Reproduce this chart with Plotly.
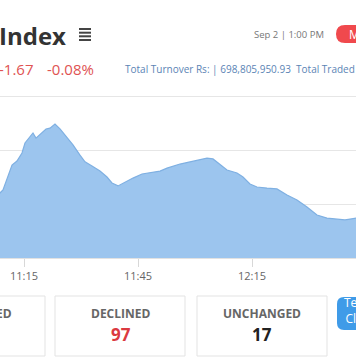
import pandas as pd
import plotly.graph_objects as go

# ---- data ----
minutes = [7.5, 8.68, 9.47, 10.79, 11.84, 13.15, 14.47, 15.26, 16.57, 17.36, 18.15, 19.21,
           20.79, 21.84, 23.15, 24.47, 26.31, 27.89, 29.73, 31.05, 32.89, 35.0, 36.84,
           38.15, 39.73, 41.57, 43.68, 46.05, 48.15, 50.79, 52.63, 54.73, 56.05, 58.68,
           61.31, 63.15, 64.73, 66.57, 68.42, 71.05, 72.63, 74.47, 76.31, 78.94, 81.57,
           84.21, 86.84, 89.47, 92.1, 94.73, 97.36, 99.47, 100.8, 102.4, 103.5]
index_values = [2084.30, 2084.41, 2084.52, 2085.07, 2085.44, 2085.59, 2085.89, 2086.26, 2086.52,
                2086.63, 2086.44, 2086.59, 2086.78, 2086.81, 2086.96, 2086.78, 2086.48, 2086.19,
                2085.81, 2085.56, 2085.41, 2085.22, 2085.00, 2084.78, 2084.67, 2084.81, 2084.96,
                2085.11, 2085.15, 2085.22, 2085.33, 2085.44, 2085.48, 2085.56, 2085.63, 2085.70,
                2085.67, 2085.48, 2085.26, 2085.15, 2085.00, 2084.74, 2084.63, 2084.59, 2084.56,
                2084.33, 2084.15, 2083.89, 2083.59, 2083.48, 2083.44, 2083.41, 2083.44, 2083.48,
                2083.50]
tick_labels = ["11:15", "11:45", "12:15", "12:45"]
change_points = "-1.67"
change_pct = "-0.08%"
turnover = "698,805,950.93"
declined = 97
unchanged = 17

base = pd.Timestamp("2020-09-02 11:00")
times = [base + pd.Timedelta(minutes=m) for m in minutes]
tickvals = [pd.Timestamp("2020-09-02 " + t) for t in tick_labels]

W, H = 356, 364
FONT = "Open Sans"


def px(x):
    return x / W


def py(y):
    return 1 - y / H


fig = go.Figure()
fig.add_trace(go.Scatter(
    x=times, y=index_values, mode="lines", fill="tozeroy",
    line=dict(color="#7fb0e2", width=1.2),
    fillcolor="#9cc5ee", hoverinfo="skip", showlegend=False))

fig.update_layout(
    width=W, height=H, margin=dict(l=0, r=0, t=0, b=0),
    paper_bgcolor="white", plot_bgcolor="white",
    font=dict(family=FONT),
    xaxis=dict(
        domain=[0, 1],
        range=[base + pd.Timedelta(minutes=8.68), base + pd.Timedelta(minutes=102.37)],
        tickvals=tickvals, ticktext=tick_labels,
        ticks="outside", ticklen=8, tickcolor="#d8d8d8",
        tickfont=dict(size=11, color="#666666", family=FONT),
        showgrid=False, showline=True, linecolor="#e2e2e2", zeroline=False,
    ),
    yaxis=dict(
        domain=[py(258), py(87.9)],
        range=[2082, 2088.3],
        tickvals=[2084, 2086, 2088], showticklabels=False,
        showgrid=True, gridcolor="#e6e6e6", gridwidth=1, zeroline=False,
    ),
)

shapes = []
# stat boxes
for x0, x1 in [(-20, 45), (55, 185), (197, 327)]:
    shapes.append(dict(type="rect", xref="paper", yref="paper",
                       x0=px(x0), x1=px(x1), y0=py(356), y1=py(296),
                       line=dict(color="#e3e3e3", width=1), fillcolor="white"))

# menu icon (four bars)
for yy in [29, 32.7, 36.3, 40]:
    shapes.append(dict(type="line", xref="paper", yref="paper",
                       x0=px(79), x1=px(91), y0=py(yy), y1=py(yy),
                       line=dict(color="#444444", width=2)))


def pill(x0, x1, y0, y1, r, color):
    path = (f"M {px(x0 + r)},{py(y0)} L {px(x1)},{py(y0)} L {px(x1)},{py(y1)} "
            f"L {px(x0 + r)},{py(y1)} Q {px(x0)},{py(y1)} {px(x0)},{py(y1 - r)} "
            f"L {px(x0)},{py(y0 + r)} Q {px(x0)},{py(y0)} {px(x0 + r)},{py(y0)} Z")
    return dict(type="path", xref="paper", yref="paper", path=path,
                fillcolor=color, line=dict(width=0))


shapes.append(pill(336, 380, 25, 43, 9, "#f0494d"))
shapes.append(pill(337, 380, 297, 330, 7, "#3f9be8"))
fig.update_layout(shapes=shapes)

ann = []


def text(x, y, s, size, color, anchor="left", bold=False):
    ann.append(dict(xref="paper", yref="paper", x=px(x), y=py(y), text=(f"<b>{s}</b>" if bold else s),
                    showarrow=False, xanchor=anchor, yanchor="middle",
                    font=dict(size=size, color=color, family=FONT)))


text(-3, 35, "Index", 24, "#333333", bold=True)
text(252, 34, "Sep 2 | 1:00 PM", 9.5, "#777777")
text(347, 34, "M", 12, "white")
text(-3, 69, change_points, 15, "#e05353")
text(45, 69, change_pct, 15, "#e05353")
text(123, 69, f"Total Turnover Rs: | {turnover}  Total Traded", 10, "#5b84b5")
text(14, 313, "ED", 12, "#666666", anchor="right", bold=True)
text(120, 313, "DECLINED", 12, "#666666", anchor="center", bold=True)
text(121, 334, str(declined), 17, "#db3a40", anchor="center", bold=True)
text(262, 313, "UNCHANGED", 12, "#666666", anchor="center", bold=True)
text(262, 334, str(unchanged), 17, "#222222", anchor="center", bold=True)
text(342, 310, "Te<br>Cl", 12, "white")
fig.update_layout(annotations=ann)

fig.write_html("out.html", config=dict(displayModeBar=False))
